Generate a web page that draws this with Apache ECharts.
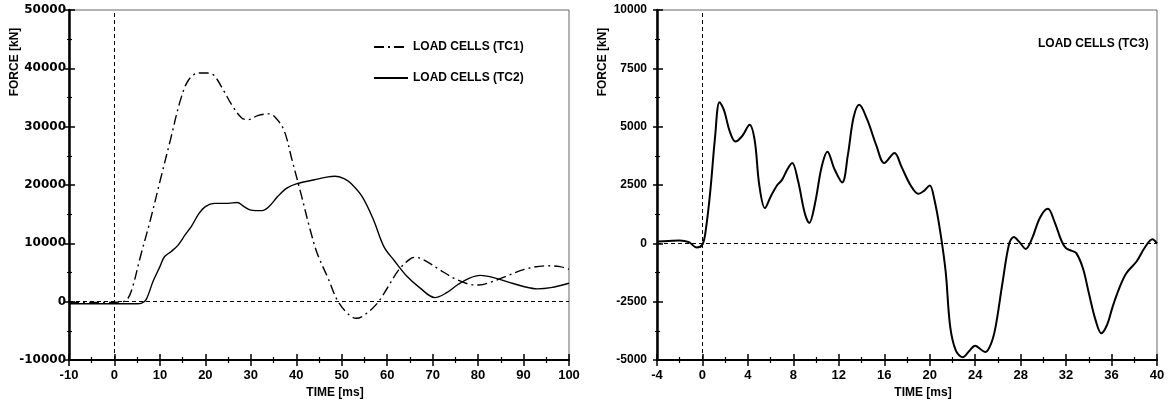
<!DOCTYPE html>
<html lang="en" style="height: 100%">
<head>
    <meta charset="UTF-8">
    <title>Load cells</title>
    <script src="https://cdn.jsdelivr.net/npm/echarts@6/dist/echarts.min.js"></script>
</head>
<body style="height: 100%; margin: 0">
<div id="main" style="width: 1168px; height: 405px"></div>
<script>
    // left chart: TC1 (dash-dot) and TC2 (solid), time in ms, force in kN
    var tc1Time = [-10, -5, 0, 2, 3, 4, 5.7, 7.9, 10.1, 12.3, 14.5, 16.3, 18.5, 20.5, 22, 24, 26, 28, 29.5, 31.5, 34, 35.5, 37.3, 39, 41, 43, 44.6, 47, 49, 51, 53.2, 55, 57.8, 60, 62.5, 65, 66.2, 68, 71.7, 75, 78, 80.2, 83, 86, 90, 95, 98, 100];
    var tc1Force = [-150, -150, -100, 0, 600, 2500, 7700, 14000, 20900, 27700, 34500, 38000, 39200, 39200, 38700, 36200, 33500, 31500, 31200, 31900, 32200, 31500, 29400, 24500, 18600, 12500, 8300, 4000, 300, -1800, -2850, -2300, -300, 2300, 5400, 7300, 7600, 7200, 5400, 3900, 3000, 2850, 3400, 4300, 5500, 6150, 6000, 5550];
    var tc2Time = [-10, -5, 0, 5, 6, 7, 8.5, 10, 11, 12.5, 14, 15.5, 17, 18.5, 20, 22, 25, 27, 28.5, 30, 32.5, 34, 36, 38, 40, 44, 47, 48.5, 50.5, 52, 54.5, 57, 59.3, 61.5, 64.4, 67, 70.5, 73, 75.5, 78, 80.5, 83, 86.5, 90, 93, 96, 100];
    var tc2Force = [-350, -350, -350, -350, -250, 400, 3500, 6000, 7700, 8600, 9700, 11400, 13000, 15000, 16300, 16850, 16850, 17000, 16300, 15700, 15600, 16300, 18100, 19500, 20200, 20900, 21400, 21500, 21100, 20300, 18000, 14000, 9400, 7100, 4300, 2500, 700, 1500, 2900, 4000, 4500, 4200, 3400, 2600, 2200, 2400, 3150];
    // right chart: TC3
    var tc3Time = [-4, -3, -2, -1.2, -0.5, 0, 0.3, 0.7, 1.1, 1.5, 1.9, 2.4, 2.9, 3.5, 4.15, 4.6, 5.0, 5.5, 6.0, 6.6, 7.0, 7.5, 7.9, 8.4, 9.0, 9.4, 9.9, 10.5, 11.0, 11.6, 12.3, 12.8, 13.3, 13.8, 14.5, 15.3, 16.0, 16.9, 17.5, 18.3, 19.0, 19.5, 20.0, 20.4, 20.9, 21.4, 21.8, 22.3, 22.9, 23.5, 24.0, 24.5, 24.9, 25.4, 25.8, 26.4, 27.0, 27.4, 27.9, 28.45, 29.0, 29.7, 30.4, 31.0, 31.6, 32.0, 32.5, 32.9, 33.5, 34.0, 34.6, 35.1, 35.6, 36.1, 36.7, 37.3, 38.2, 38.9, 39.6, 40];
    var tc3Force = [80, 100, 120, 50, -180, -50, 600, 2290, 4500, 6050, 5700, 4800, 4360, 4600, 5080, 4400, 2500, 1510, 2000, 2510, 2720, 3200, 3440, 2700, 1300, 870, 1700, 3300, 3930, 3200, 2610, 3800, 5400, 5940, 5300, 4200, 3440, 3870, 3300, 2500, 2120, 2250, 2480, 1900, 580, -1200, -3570, -4600, -4880, -4600, -4390, -4550, -4660, -4300, -3570, -1700, 0, 270, 50, -240, 200, 1100, 1480, 900, 100, -210, -320, -420, -1100, -2130, -3300, -3850, -3500, -2710, -1900, -1280, -780, -200, 180, 0];

    var leftTicksX = [-10, 100, 10];
    var leftTicksY = [-10000, 50000, 10000];
    var rightTicksX = [-4, 40, 4];
    var rightTicksY = [-5000, 10000, 2500];

    function pairs(t, v) {
        return t.map(function (x, i) { return [x, v[i]]; });
    }

    var font = '"Liberation Sans", Arial, sans-serif';
    var lbl = {color: '#000', fontWeight: 'bold', fontSize: 12, fontFamily: font};
    var plain = function (v) { return String(v); };

    // main axis (outside ticks, labels) + helper axis (inside ticks) so ticks cross the line
    function xAxes(grid, t, name) {
        return [{
            type: 'value', gridIndex: grid, position: 'bottom', min: t[0], max: t[1], interval: t[2],
            name: name, nameLocation: 'middle', nameGap: 27,
            nameTextStyle: {color: '#000', fontWeight: 'bold', fontSize: 12, fontFamily: font, padding: [0, 0, 0, 32]},
            axisLine: {onZero: false, lineStyle: {color: '#000', width: 2}},
            axisTick: {length: 6, lineStyle: {color: '#000', width: 1.5}},
            minorTick: {show: true, splitNumber: 2, length: 3, lineStyle: {color: '#000', width: 1.2}},
            axisLabel: Object.assign({}, lbl, {margin: 9, fontSize: 13, formatter: plain}),
            splitLine: {show: false}
        }, {
            type: 'value', gridIndex: grid, position: 'bottom', min: t[0], max: t[1], interval: t[2],
            axisLine: {show: false, onZero: false},
            axisTick: {inside: true, length: 6, lineStyle: {color: '#000', width: 1.5}},
            minorTick: {show: true, splitNumber: 2, length: 3, lineStyle: {color: '#000', width: 1.2}},
            axisLabel: {show: false},
            splitLine: {show: false}
        }];
    }

    function yAxes(grid, t, labelStyle) {
        return [{
            type: 'value', gridIndex: grid, position: 'left', min: t[0], max: t[1], interval: t[2],
            axisLine: {onZero: false, lineStyle: {color: '#000', width: 2.5}},
            axisTick: {length: 4, lineStyle: {color: '#000', width: 1.5}},
            minorTick: {show: true, splitNumber: 2, length: 2, lineStyle: {color: '#000', width: 1.2}},
            axisLabel: Object.assign({}, lbl, labelStyle, {formatter: plain}),
            splitLine: {show: false}
        }, {
            type: 'value', gridIndex: grid, position: 'left', min: t[0], max: t[1], interval: t[2],
            axisLine: {show: false, onZero: false},
            axisTick: {inside: true, length: 6, lineStyle: {color: '#000', width: 1.5}},
            minorTick: {show: true, splitNumber: 2, length: 3, lineStyle: {color: '#000', width: 1.2}},
            axisLabel: {show: false},
            splitLine: {show: false}
        }];
    }

    var zeroLines = {
        silent: true,
        symbol: ['none', 'none'],
        label: {show: false},
        lineStyle: {color: '#000', width: 1, type: [4, 3]},
        data: [{yAxis: 0}, {xAxis: 0}]
    };

    var option = {
        animation: false,
        backgroundColor: '#fff',
        grid: [
            {left: 69, top: 10, width: 500, height: 350, show: true, borderColor: '#666', borderWidth: 1},
            {left: 657, top: 10, width: 500, height: 350, show: true, borderColor: '#666', borderWidth: 1}
        ],
        xAxis: xAxes(0, leftTicksX, 'TIME [ms]').concat(xAxes(1, rightTicksX, 'TIME [ms]')),
        yAxis: yAxes(0, leftTicksY, {margin: 3, fontFamily: '"DejaVu Sans", sans-serif', fontSize: 12})
            .concat(yAxes(1, rightTicksY, {margin: 10})),
        legend: [{
            left: 373, top: 41, orient: 'vertical', padding: 0,
            itemWidth: 34, itemHeight: 14, itemGap: 19, itemTextGap: 6,
            selectedMode: false,
            itemStyle: {opacity: 0},
            textStyle: lbl,
            data: ['LOAD CELLS (TC1)', 'LOAD CELLS (TC2)']
        }, {
            left: 1033, top: 37, orient: 'vertical', padding: 0,
            itemWidth: 0, itemHeight: 14, itemTextGap: 5,
            selectedMode: false,
            textStyle: lbl,
            data: [{name: 'LOAD CELLS (TC3)', icon: 'none'}]
        }],
        graphic: [
            {type: 'text', x: 15, y: 62, rotation: Math.PI / 2,
                style: {text: 'FORCE [kN]', fill: '#000', font: 'bold 12px ' + font, align: 'center', verticalAlign: 'middle'}},
            {type: 'text', x: 603, y: 62, rotation: Math.PI / 2,
                style: {text: 'FORCE [kN]', fill: '#000', font: 'bold 12px ' + font, align: 'center', verticalAlign: 'middle'}}
        ],
        series: [{
            name: 'LOAD CELLS (TC1)', type: 'line', xAxisIndex: 0, yAxisIndex: 0,
            data: pairs(tc1Time, tc1Force), smooth: 0.35, showSymbol: false, symbol: 'none',
            lineStyle: {color: '#000', width: 1.4, type: [10, 4, 2, 4]},
            itemStyle: {color: '#000'},
            markLine: zeroLines
        }, {
            name: 'LOAD CELLS (TC2)', type: 'line', xAxisIndex: 0, yAxisIndex: 0,
            data: pairs(tc2Time, tc2Force), smooth: 0.35, showSymbol: false, symbol: 'none',
            lineStyle: {color: '#000', width: 1.4},
            itemStyle: {color: '#000'}
        }, {
            name: 'LOAD CELLS (TC3)', type: 'line', xAxisIndex: 2, yAxisIndex: 2,
            data: pairs(tc3Time, tc3Force), smooth: 0.35, showSymbol: false, symbol: 'none',
            lineStyle: {color: '#000', width: 2},
            itemStyle: {color: '#000'},
            markLine: zeroLines
        }]
    };

    var myChart = echarts.init(document.getElementById('main'));
    myChart.setOption(option);
</script>
</body>
</html>
